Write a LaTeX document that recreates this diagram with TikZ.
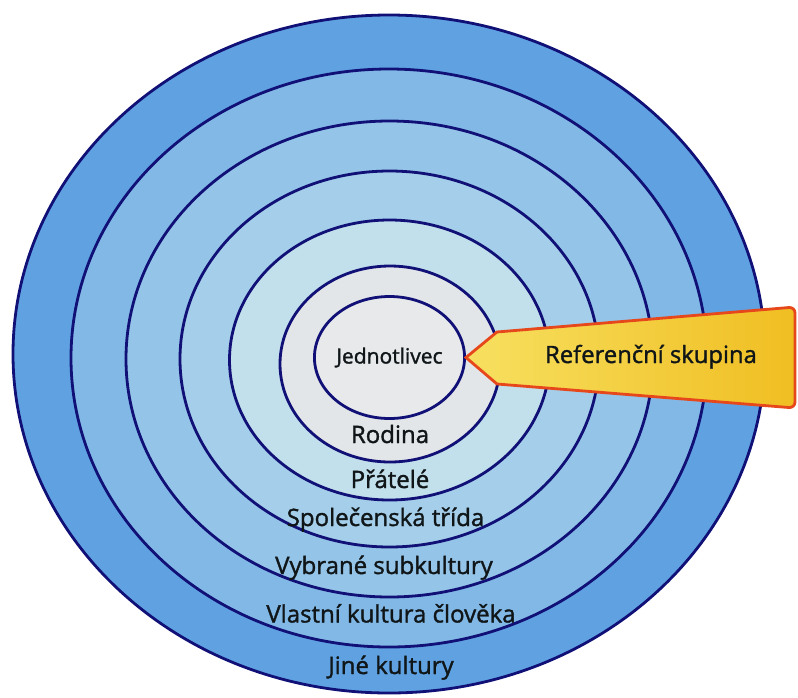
\documentclass[tikz,border=0pt]{standalone}
\usepackage{fontspec}
\setmainfont{Open Sans}
\newfontfamily\labfont{Open Sans}[FakeBold=1.4]
\usetikzlibrary{shapes.geometric}
\definecolor{ringline}{RGB}{16,16,118}
\definecolor{txt}{RGB}{16,22,24}
\definecolor{cA}{RGB}{231,233,235}
\definecolor{cB}{RGB}{226,230,232}
\definecolor{cC}{RGB}{194,223,236}
\definecolor{cD}{RGB}{164,206,233}
\definecolor{cE}{RGB}{148,196,232}
\definecolor{cF}{RGB}{130,184,230}
\definecolor{cG}{RGB}{96,162,225}
\definecolor{tagL}{RGB}{247,224,96}
\definecolor{tagR}{RGB}{240,190,34}
\definecolor{tagline}{RGB}{230,72,28}
\tikzset{
  ring/.style={draw=ringline, line width=2.8pt},
  lab/.style={font=\labfont\fontsize{24}{28}\selectfont, text=txt, anchor=base, inner sep=0pt},
  tagbox/.style={draw=tagline, line width=2.8pt, left color=tagL, right color=tagR, line join=miter}
}
\begin{document}
\begin{tikzpicture}[x=1pt,y=-1pt]
\useasboundingbox (0,0) rectangle (798,697);
\draw[ring, fill=cG] (389,354) ellipse [x radius=376, y radius=339];
\draw[ring, fill=cF] (389,358) ellipse [x radius=318, y radius=289];
\draw[ring, fill=cE] (389.5,359) ellipse [x radius=263.5, y radius=238];
\draw[ring, fill=cD] (389.5,359) ellipse [x radius=209.5, y radius=188];
\draw[ring, fill=cC] (389.5,360) ellipse [x radius=160, y radius=140];
\draw[ring, fill=cB] (390,364) ellipse [x radius=110, y radius=98];
\node[ellipse, ring, fill=cA, minimum width=134pt, minimum height=122pt, inner sep=0pt,
      font=\labfont\fontsize{21}{25}\selectfont, text=txt] (indiv) at (389.5,357.5) {Jednotlivec};
\coordinate (ub) at (497,332);
\coordinate (tr) at (795,307);
\coordinate (br) at (795,408);
\coordinate (lb) at (497,384);
\draw[tagbox] (indiv.east) -- (ub) [rounded corners=6pt] -- (tr) -- (br) [sharp corners] -- (lb) -- cycle;
\node[lab, font=\labfont\fontsize{23.8}{28}\selectfont] (ref) at (651,363) {Referenční skupina};
\node[lab] (rodina) at (390,443) {Rodina};
\node[lab] (pratele) at (390,488) {Přátelé};
\node[lab] (spol) at (385.5,526) {Společenská třída};
\node[lab] (vybr) at (384,574) {Vybrané subkultury};
\node[lab] (vlast) at (391,622.5) {Vlastní kultura člověka};
\node[lab] (jine) at (391,674) {Jiné kultury};
\end{tikzpicture}
\end{document}
